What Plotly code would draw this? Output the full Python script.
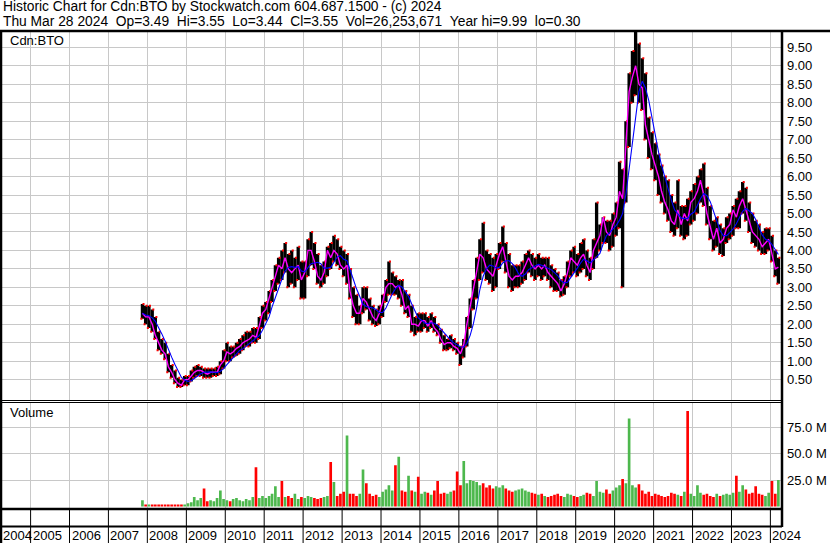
import plotly.graph_objects as go
import pandas as pd
import numpy as np

# ---------------- data (monthly, Nov 2007 .. Mar 2024) ----------------
high = [
    2.55, 2.5,
    2.5, 2.4, 2.2, 1.8, 1.6, 1.5, 1.2, 0.9, 0.75, 0.55, 0.5, 0.6,
    0.6, 0.75, 0.85, 0.9, 0.85, 0.8, 0.8, 0.8, 0.8, 0.85, 1.0, 1.3,
    1.5, 1.4, 1.4, 1.5, 1.6, 1.7, 1.8, 1.8, 1.9, 1.9, 2.2, 2.5,
    2.6, 2.9, 3.2, 3.6, 3.8, 4.0, 4.2, 3.9, 4.0, 3.8, 4.1, 3.7,
    3.7, 4.3, 4.5, 4.2, 3.9, 3.6, 3.7, 4.1, 4.2, 4.4, 4.3, 4.1,
    4.0, 3.9, 3.5, 3.0, 2.8, 2.5, 3.0, 3.0, 2.7, 2.5, 2.4, 2.5,
    2.8, 3.2, 3.7, 3.4, 3.3, 3.2, 3.2, 2.9, 2.8, 2.5, 2.2, 2.3,
    2.3, 2.3, 2.2, 2.3, 2.2, 2.0, 1.85, 1.7, 1.6, 1.7, 1.6, 1.5,
    1.4, 1.6, 2.2, 2.7, 3.2, 3.8, 4.3, 4.75, 4.0, 3.9, 3.8, 3.9,
    4.2, 4.65, 4.2, 3.9, 3.6, 3.6, 3.6, 3.7, 3.9, 4.0, 3.9, 3.8,
    3.9, 3.8, 3.8, 3.8, 3.6, 3.5, 3.4, 3.2, 3.3, 3.7, 4.0, 4.1,
    3.9, 4.2, 4.3, 4.0, 3.8, 4.3, 5.3, 4.7, 4.9, 4.8, 4.8, 5.0,
    5.3, 6.4, 6.2, 7.5, 8.8, 9.4, 9.99, 9.6, 9.2, 8.8, 7.6, 7.2,
    6.9, 6.6, 6.3, 6.0, 5.9, 5.5, 5.3, 5.9, 5.2, 5.2, 5.4, 5.6,
    5.8, 6.0, 6.2, 6.35, 5.7, 5.2, 4.8, 4.9, 4.7, 4.6, 4.9, 5.0,
    5.2, 5.4, 5.6, 5.85, 5.7, 5.3, 5.0, 4.8, 4.7, 4.5, 4.6, 4.6,
    4.4, 4.0, 3.8,
]
low = [
    2.15, 2.0,
    1.9, 1.8, 1.6, 1.3, 1.2, 1.05, 0.7, 0.55, 0.4, 0.3, 0.3, 0.35,
    0.35, 0.45, 0.55, 0.6, 0.6, 0.55, 0.55, 0.55, 0.6, 0.6, 0.65, 0.8,
    1.0, 1.0, 1.1, 1.15, 1.2, 1.3, 1.4, 1.4, 1.5, 1.5, 1.6, 1.9,
    2.1, 2.3, 2.6, 2.9, 3.1, 3.2, 3.4, 3.0, 3.1, 3.0, 3.2, 2.7,
    2.7, 3.3, 3.6, 3.5, 3.1, 3.0, 3.1, 3.3, 3.5, 3.7, 3.6, 3.5,
    3.3, 3.1, 2.7, 2.2, 2.0, 2.0, 2.3, 2.4, 2.1, 2.0, 1.95, 2.0,
    2.2, 2.6, 2.8, 2.8, 2.8, 2.7, 2.5, 2.3, 2.2, 1.8, 1.7, 1.8,
    1.8, 1.9, 1.8, 1.9, 1.8, 1.7, 1.5, 1.3, 1.3, 1.35, 1.3, 1.2,
    0.9, 1.1, 1.4, 1.9, 2.4, 2.7, 3.2, 3.4, 3.2, 3.1, 2.9, 3.0,
    3.5, 3.7, 3.4, 3.0, 2.9, 3.0, 3.0, 3.1, 3.2, 3.4, 3.3, 3.2,
    3.3, 3.2, 3.3, 3.2, 3.0, 2.9, 2.9, 2.75, 2.8, 3.0, 3.3, 3.4,
    3.3, 3.4, 3.5, 3.3, 3.2, 3.5, 3.8, 4.0, 4.2, 4.2, 4.0, 4.1,
    4.4, 4.6, 3.0, 5.3, 6.8, 8.0, 8.2, 8.0, 7.8, 7.0, 6.5, 6.2,
    5.9, 5.5, 5.3, 5.0, 4.8, 4.5, 4.4, 4.6, 4.4, 4.3, 4.4, 4.7,
    4.8, 5.0, 5.3, 5.2, 4.7, 4.3, 4.0, 4.1, 3.9, 3.85, 4.2, 4.3,
    4.4, 4.6, 4.6, 5.0, 4.8, 4.5, 4.2, 4.1, 4.0, 3.9, 3.9, 4.0,
    3.7, 3.3, 3.1,
]
close = [
    2.3, 2.2,
    2.2, 2.0, 1.7, 1.5, 1.3, 1.2, 0.85, 0.7, 0.5, 0.4, 0.35, 0.5,
    0.5, 0.6, 0.7, 0.75, 0.75, 0.7, 0.65, 0.7, 0.7, 0.7, 0.9, 1.0,
    1.25, 1.2, 1.25, 1.35, 1.4, 1.5, 1.55, 1.6, 1.7, 1.65, 1.95, 2.3,
    2.4, 2.7, 3.0, 3.3, 3.6, 3.5, 3.8, 3.5, 3.4, 3.5, 3.6, 3.2,
    3.4, 4.0, 4.0, 3.7, 3.3, 3.2, 3.4, 4.0, 3.8, 4.0, 3.9, 3.6,
    3.5, 3.6, 2.9, 2.5, 2.3, 2.3, 2.7, 2.6, 2.4, 2.2, 2.1, 2.3,
    2.6, 3.0, 3.1, 3.1, 3.0, 3.05, 2.8, 2.4, 2.5, 2.0, 2.0, 1.95,
    2.1, 2.1, 1.95, 2.1, 1.9, 1.8, 1.6, 1.45, 1.5, 1.5, 1.4, 1.35,
    1.2, 1.45, 2.0, 2.5, 2.9, 3.4, 3.9, 3.8, 3.5, 3.4, 3.3, 3.6,
    3.9, 4.1, 3.7, 3.3, 3.2, 3.3, 3.3, 3.4, 3.6, 3.8, 3.6, 3.5,
    3.6, 3.5, 3.6, 3.4, 3.3, 3.2, 3.1, 2.9, 3.1, 3.4, 3.8, 3.7,
    3.6, 3.8, 3.9, 3.6, 3.4, 4.0, 4.2, 4.4, 4.9, 4.5, 4.4, 4.7,
    4.9, 5.6, 5.4, 7.0, 8.3, 8.7, 9.0, 8.5, 8.4, 7.4, 7.0, 6.6,
    6.3, 6.0, 5.6, 5.3, 5.1, 4.8, 4.7, 5.1, 4.7, 5.0, 4.8, 5.3,
    5.4, 5.6, 5.9, 5.5, 5.0, 4.6, 4.3, 4.6, 4.2, 4.3, 4.6, 4.7,
    5.1, 4.9, 5.2, 5.4, 5.1, 4.8, 4.5, 4.4, 4.3, 4.1, 4.2, 4.3,
    3.9, 3.5, 3.55,
]
volume_m = [
    6, 1,
    1, 1, 1.5, 1, 2, 1, 1, 1.5, 2, 2, 1.5, 2,
    3, 4, 9, 6, 8, 17, 5, 6, 5, 8, 15, 7,
    6, 5, 7, 8, 6, 5, 7, 6, 9, 37, 8, 10,
    8, 10, 12, 19, 9, 24, 9, 10, 8, 12, 7, 9,
    8, 10, 9, 8, 7, 8, 9, 10, 42, 23, 10, 12,
    14, 67, 12, 12, 10, 12, 35, 22, 12, 10, 11, 9,
    14, 16, 20, 15, 39, 47, 15, 14, 29, 15, 14, 28,
    12, 14, 13, 11, 15, 24, 12, 13, 12, 14, 15, 33,
    20, 43, 22, 25, 24, 23, 20, 22, 18, 20, 17, 19,
    18, 20, 17, 15, 14, 15, 16, 17, 15, 14, 13, 12,
    11, 12, 10, 9, 10, 11, 12, 10, 9, 12, 11, 10,
    9, 10, 11, 13, 12, 10, 24, 14, 13, 16, 12, 15,
    18, 20, 26, 22, 83, 20, 18, 21, 15, 12, 14, 10,
    12, 11, 10, 9, 10, 13, 12, 11, 10, 14, 90, 12,
    10, 20, 13, 11, 12, 10, 9, 12, 10, 11, 12, 11,
    13, 29, 14, 20, 16, 12, 13, 19, 12, 11, 10, 13,
    24, 12, 25,
]
years = list(range(2004, 2025))
price_ticks = [0.5 * k for k in range(1, 20)]
volume_ticks_m = [25, 50, 75]

title1 = "Historic Chart for Cdn:BTO by Stockwatch.com 604.687.1500 - (c) 2024"
title2 = ("Thu Mar 28 2024  Op=3.49  Hi=3.55  Lo=3.44  Cl=3.55  "
          "Vol=26,253,671  Year hi=9.99  lo=0.30")

# ---------------- figure ----------------
W, H = 830, 543
FONT = "Liberation Sans, Arial, sans-serif"


def px(x):
    return x / W


def py(y):
    return 1 - y / H


months = pd.date_range("2007-11-01", "2024-03-01", freq="MS") + pd.Timedelta(days=15)
hi = np.array(high)
lo = np.array(low)
cl = pd.Series(close, dtype=float)
ma_long = cl.rolling(5, min_periods=1).mean()
vol = np.array(volume_m, dtype=float) * 1e6
prev = cl.shift(1).fillna(cl.iloc[0] - 1)
vol_colors = np.where(cl.values >= prev.values, "#4db84d", "#ff0000")

DAY = 86400000
fig = go.Figure()
fig.add_trace(go.Bar(x=months, y=hi - lo, base=lo, width=31 * DAY,
                     marker=dict(color="black", line=dict(width=0)),
                     xaxis="x", yaxis="y"))
fig.add_trace(go.Scatter(x=months + pd.Timedelta(days=10), y=hi, mode="markers",
                         marker=dict(symbol="square", size=2, color="#ff0000"),
                         xaxis="x", yaxis="y"))
fig.add_trace(go.Scatter(x=months - pd.Timedelta(days=10), y=lo, mode="markers",
                         marker=dict(symbol="square", size=2, color="#ff0000"),
                         xaxis="x", yaxis="y"))
fig.add_trace(go.Scatter(x=months, y=cl, mode="lines",
                         line=dict(color="#ff00ff", width=1.4),
                         xaxis="x", yaxis="y"))
fig.add_trace(go.Scatter(x=months, y=ma_long, mode="lines",
                         line=dict(color="#0000ff", width=1.1),
                         xaxis="x", yaxis="y"))
fig.add_trace(go.Bar(x=months, y=vol, width=25 * DAY,
                     marker=dict(color=list(vol_colors), line=dict(width=0)),
                     xaxis="x2", yaxis="y2"))

year_starts = [f"{y}-01-01" for y in years[1:]]
GRID = "#c8c8c8"
xcommon = dict(type="date", range=["2004-03-20", "2024-04-19"],
               domain=[0, px(782)], tickvals=year_starts, showticklabels=False,
               showgrid=True, gridcolor=GRID, gridwidth=1, zeroline=False,
               showline=False, ticks="")
fig.update_layout(
    width=W, height=H, margin=dict(l=0, r=0, t=0, b=0),
    paper_bgcolor="white", plot_bgcolor="white", showlegend=False,
    barmode="overlay", font=dict(family=FONT, size=13, color="black"),
    xaxis=dict(anchor="y", **xcommon),
    xaxis2=dict(anchor="y2", matches="x", **xcommon),
    yaxis=dict(domain=[py(400.5), py(31)], range=[-0.064, 9.941], side="right",
               anchor="x", tickvals=price_ticks,
               ticktext=[f"{v:.2f}" for v in price_ticks],
               showgrid=True, gridcolor=GRID, gridwidth=1, zeroline=False,
               showline=False, ticks="", ticklabelstandoff=4,
               tickfont=dict(size=13, family=FONT, color="black")),
    yaxis2=dict(domain=[py(509), py(401.5)], range=[-2.36e6, 99.06e6],
                side="right", anchor="x2",
                tickvals=[v * 1e6 for v in volume_ticks_m],
                ticktext=[f"{v:.1f} M" for v in volume_ticks_m],
                showgrid=True, gridcolor=GRID, gridwidth=1, zeroline=False,
                showline=False, ticks="", ticklabelstandoff=4,
                tickfont=dict(size=13, family=FONT, color="black")),
)

ann = []
ann.append(dict(text=title1.replace(" ", "\u00a0"), x=px(1), y=py(7), xref="paper",
                yref="paper", xanchor="left", yanchor="middle", showarrow=False,
                font=dict(size=13.8, family=FONT, color="black")))
ann.append(dict(text=title2.replace(" ", "\u00a0"), x=px(1), y=py(21.5), xref="paper",
                yref="paper", xanchor="left", yanchor="middle", showarrow=False,
                font=dict(size=13.8, family=FONT, color="black")))
ann.append(dict(text="Cdn:BTO", x=px(8), y=py(40.5), xref="paper", yref="paper",
                xanchor="left", yanchor="middle", showarrow=False,
                font=dict(size=13, family=FONT, color="black")))
ann.append(dict(text="Volume", x=px(8), y=py(413), xref="paper", yref="paper",
                xanchor="left", yanchor="middle", showarrow=False,
                font=dict(size=13, family=FONT, color="black")))
ann.append(dict(text=str(years[0]), x=px(1), y=py(535), xref="paper", yref="paper",
                xanchor="left", yanchor="middle", showarrow=False,
                font=dict(size=13, family=FONT, color="black")))
for ys in year_starts:
    ann.append(dict(text=ys[:4], x=ys, y=py(535), xref="x", yref="paper",
                    xanchor="left", yanchor="middle", xshift=0, showarrow=False,
                    font=dict(size=13, family=FONT, color="black")))
fig.update_layout(annotations=ann)

shapes = []
for ys in year_starts:
    shapes.append(dict(type="line", xref="x", yref="paper", x0=ys, x1=ys,
                       y0=py(509), y1=py(543), line=dict(color="black", width=1)))


def hline(y, x0, x1, w):
    shapes.append(dict(type="line", xref="paper", yref="paper", x0=px(x0), x1=px(x1),
                       y0=py(y), y1=py(y), line=dict(color="black", width=w)))


def vline(x, y0, y1, w):
    shapes.append(dict(type="line", xref="paper", yref="paper", x0=px(x), x1=px(x),
                       y0=py(y0), y1=py(y1), line=dict(color="black", width=w)))


hline(31, 0, 830, 2.5)
hline(400.5, 0, 782, 1.2)
hline(402.5, 0, 782, 1.2)
hline(509, 0, 782, 2.5)
hline(526.5, 0, 782, 2)
vline(1, 31, 543, 2.5)
vline(782, 31, 527, 2.5)
fig.update_layout(shapes=shapes)

fig.write_html("out.html",
               config={"displayModeBar": False},
               post_script="document.body.style.margin='0';"
                           "document.body.style.overflow='hidden';")
